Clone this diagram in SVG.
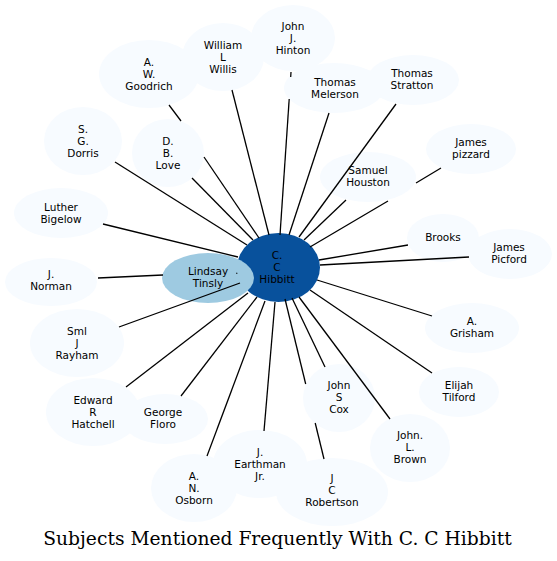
<svg xmlns="http://www.w3.org/2000/svg" width="557" height="561" viewBox="0 0 557 561">
<style>
.n{fill:#f7fbff;stroke:none}
.t{font-family:"DejaVu Sans",sans-serif;font-size:10.5px;fill:#000;text-anchor:middle}
.e line{stroke:#000;stroke-width:1.3;stroke-linecap:butt}
.title{font-family:"DejaVu Serif",serif;font-size:18.7px;fill:#000;text-anchor:middle}
</style>
<rect width="557" height="561" fill="#fff"/>
<g id="nodes">
<g id="hinton"><ellipse class="n" cx="293" cy="38" rx="42" ry="33"/><text class="t" x="293" y="30"><tspan x="293">John</tspan><tspan x="293" dy="12">J.</tspan><tspan x="293" dy="12">Hinton</tspan></text></g>
<g id="willis"><ellipse class="n" cx="223" cy="57" rx="41" ry="34"/><text class="t" x="223" y="49"><tspan x="223">William</tspan><tspan x="223" dy="12">L</tspan><tspan x="223" dy="12">Willis</tspan></text></g>
<g id="goodrich"><ellipse class="n" cx="149" cy="74" rx="50" ry="34"/><text class="t" x="149" y="66"><tspan x="149">A.</tspan><tspan x="149" dy="12">W.</tspan><tspan x="149" dy="12">Goodrich</tspan></text></g>
<g id="dorris"><ellipse class="n" cx="83" cy="141" rx="39" ry="34"/><text class="t" x="83" y="133"><tspan x="83">S.</tspan><tspan x="83" dy="12">G.</tspan><tspan x="83" dy="12">Dorris</tspan></text></g>
<g id="love"><ellipse class="n" cx="168" cy="153" rx="36" ry="34"/><text class="t" x="168" y="145"><tspan x="168">D.</tspan><tspan x="168" dy="12">B.</tspan><tspan x="168" dy="12">Love</tspan></text></g>
<g id="bigelow"><ellipse class="n" cx="61" cy="213" rx="47" ry="25"/><text class="t" x="61" y="211"><tspan x="61">Luther</tspan><tspan x="61" dy="12">Bigelow</tspan></text></g>
<g id="norman"><ellipse class="n" cx="51" cy="282" rx="46" ry="24"/><text class="t" x="51" y="278"><tspan x="51">J.</tspan><tspan x="51" dy="12">Norman</tspan></text></g>
<g id="rayham"><ellipse class="n" cx="77" cy="343" rx="47" ry="34"/><text class="t" x="77" y="335"><tspan x="77">Sml</tspan><tspan x="77" dy="12">J</tspan><tspan x="77" dy="12">Rayham</tspan></text></g>
<g id="hatchell"><ellipse class="n" cx="93" cy="412" rx="47" ry="34"/><text class="t" x="93" y="404"><tspan x="93">Edward</tspan><tspan x="93" dy="12">R</tspan><tspan x="93" dy="12">Hatchell</tspan></text></g>
<g id="floro"><ellipse class="n" cx="165" cy="419" rx="43" ry="25"/><text class="t" x="163" y="416"><tspan x="163">George</tspan><tspan x="163" dy="12">Floro</tspan></text></g>
<g id="osborn"><ellipse class="n" cx="194" cy="488" rx="43" ry="34"/><text class="t" x="194" y="480"><tspan x="194">A.</tspan><tspan x="194" dy="12">N.</tspan><tspan x="194" dy="12">Osborn</tspan></text></g>
<g id="earthman"><ellipse class="n" cx="260" cy="464" rx="47" ry="34"/><text class="t" x="260" y="456"><tspan x="260">J.</tspan><tspan x="260" dy="12">Earthman</tspan><tspan x="260" dy="12">Jr.</tspan></text></g>
<g id="robertson"><ellipse class="n" cx="332" cy="492" rx="56" ry="34"/><text class="t" x="332" y="482"><tspan x="332">J</tspan><tspan x="332" dy="12">C</tspan><tspan x="332" dy="12">Robertson</tspan></text></g>
<g id="cox"><ellipse class="n" cx="339" cy="398" rx="36" ry="34"/><text class="t" x="339" y="389"><tspan x="339">John</tspan><tspan x="339" dy="12">S</tspan><tspan x="339" dy="12">Cox</tspan></text></g>
<g id="brown"><ellipse class="n" cx="410" cy="448" rx="40" ry="34"/><text class="t" x="410" y="439"><tspan x="410">John.</tspan><tspan x="410" dy="12">L.</tspan><tspan x="410" dy="12">Brown</tspan></text></g>
<g id="tilford"><ellipse class="n" cx="459" cy="392" rx="40" ry="25"/><text class="t" x="459" y="389"><tspan x="459">Elijah</tspan><tspan x="459" dy="12">Tilford</tspan></text></g>
<g id="grisham"><ellipse class="n" cx="472" cy="328" rx="47" ry="25"/><text class="t" x="472" y="325"><tspan x="472">A.</tspan><tspan x="472" dy="12">Grisham</tspan></text></g>
<g id="picford"><ellipse class="n" cx="510" cy="254" rx="42" ry="25"/><text class="t" x="509" y="251"><tspan x="509">James</tspan><tspan x="509" dy="12">Picford</tspan></text></g>
<g id="brooks"><ellipse class="n" cx="443" cy="238" rx="36" ry="24"/><text class="t" x="443" y="241">Brooks</text></g>
<g id="pizzard"><ellipse class="n" cx="471" cy="149" rx="45" ry="25"/><text class="t" x="471" y="146"><tspan x="471">James</tspan><tspan x="471" dy="12">pizzard</tspan></text></g>
<g id="houston"><ellipse class="n" cx="368" cy="177" rx="48" ry="25"/><text class="t" x="368" y="174"><tspan x="368">Samuel</tspan><tspan x="368" dy="12">Houston</tspan></text></g>
<g id="stratton"><ellipse class="n" cx="413" cy="80" rx="46" ry="25"/><text class="t" x="412" y="77"><tspan x="412">Thomas</tspan><tspan x="412" dy="12">Stratton</tspan></text></g>
<g id="melerson"><ellipse class="n" cx="334" cy="88" rx="50" ry="25"/><text class="t" x="335" y="86"><tspan x="335">Thomas</tspan><tspan x="335" dy="12">Melerson</tspan></text></g>
<g id="hibbitt"><ellipse cx="278.5" cy="267.5" rx="41.5" ry="34.5" fill="#08519c"/><text class="t" x="277" y="259"><tspan x="277">C.</tspan><tspan x="277" dy="12">C</tspan><tspan x="277" dy="12">Hibbitt</tspan></text></g>
<g id="lindsay"><ellipse cx="208" cy="278" rx="46" ry="25" fill="#9ecae1"/><text class="t" x="208" y="275"><tspan x="208">Lindsay</tspan><tspan x="208" dy="12">Tinsly</tspan></text></g>
</g>
<g id="connectors" class="e">
<line x1="169" y1="105" x2="181" y2="121"/>
<line x1="204" y1="157" x2="259" y2="238"/>
<line x1="192" y1="178" x2="253" y2="240"/>
<line x1="232" y1="90" x2="269" y2="235"/>
<line x1="115" y1="162" x2="247" y2="245"/>
<line x1="103" y1="224" x2="238" y2="257"/>
<line x1="291" y1="72" x2="290.7" y2="77"/>
<line x1="289.2" y1="99" x2="280" y2="235"/>
<line x1="329" y1="113" x2="289" y2="235"/>
<line x1="396" y1="104" x2="299" y2="237"/>
<line x1="346" y1="200" x2="304" y2="240"/>
<line x1="441" y1="168" x2="416" y2="183"/>
<line x1="388" y1="201" x2="310" y2="247"/>
<line x1="408" y1="245" x2="319" y2="260"/>
<line x1="469" y1="257" x2="320" y2="265"/>
<line x1="432" y1="316" x2="317" y2="280"/>
<line x1="432" y1="373" x2="310" y2="290"/>
<line x1="390" y1="419" x2="299" y2="297"/>
<line x1="325" y1="367" x2="292" y2="298"/>
<line x1="324" y1="459" x2="315.2" y2="423"/>
<line x1="305.7" y1="384" x2="285" y2="299"/>
<line x1="264" y1="431" x2="275" y2="302"/>
<line x1="207" y1="456" x2="265" y2="301"/>
<line x1="181" y1="396" x2="257" y2="297"/>
<line x1="126" y1="387" x2="248" y2="293"/>
<line x1="119" y1="327" x2="240" y2="283"/>
<line x1="98" y1="278" x2="163" y2="275"/>
<line x1="236.3" y1="273" x2="237.3" y2="273.5"/>
</g>
<text class="title" x="277.5" y="545">Subjects Mentioned Frequently With C. C Hibbitt</text>
</svg>
